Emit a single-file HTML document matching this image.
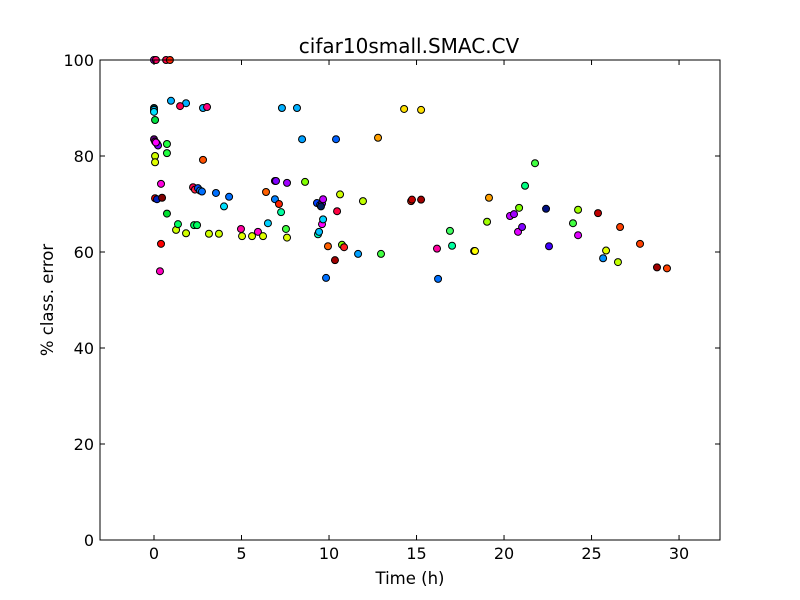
<!DOCTYPE html>
<html><head><meta charset="utf-8"><style>
body{margin:0;background:#fff;}
svg{display:block;font-family:"DejaVu Sans","Liberation Sans",sans-serif;}
</style></head><body>
<svg id="chart" width="800" height="600">
<rect x="0" y="0" width="800" height="600" fill="#fff"/>
<g id="marks"></g>
<g id="axes"></g>
<text x="409" y="53" font-size="20" text-anchor="middle">cifar10small.SMAC.CV</text>
<text x="410" y="584" font-size="16.5" text-anchor="middle">Time (h)</text>
<text transform="translate(53,300) rotate(-90)" font-size="16.5" text-anchor="middle">% class. error</text>
</svg>
<script>
const xTicks=[0,5,10,15,20,25,30];
const yTicks=[0,20,40,60,80,100];
const xs=[0,0.11,0.69,0.91,0,0,0,0.06,0,0.06,0.17,0.23,0.11,0.06,0.06,0.4,0.06,0.17,0.46,0.4,0.34,0.74,0.74,0.74,0.97,1.83,1.49,2.8,3.03,2.8,2.23,2.34,2.51,2.63,2.74,3.54,4.29,4.0,1.26,1.37,1.83,2.29,2.46,3.14,3.71,4.97,5.03,5.6,5.94,6.23,6.4,6.51,6.91,6.97,6.91,7.14,7.26,7.31,8.17,7.6,7.54,7.6,8.46,8.63,9.31,9.49,9.6,9.66,9.54,9.37,9.43,9.6,9.66,9.83,9.94,10.4,10.46,10.63,10.34,10.74,10.86,11.66,11.94,12.8,12.97,14.29,15.26,14.69,14.74,15.26,16.17,16.23,16.91,17.03,18.29,18.34,19.03,19.14,20.34,20.57,20.8,20.86,21.03,21.2,21.77,22.4,22.57,23.94,24.23,24.23,25.37,25.66,25.83,26.51,26.63,27.77,28.74,29.31];
const ys=[100,100,100,100,90,89.6,89.2,87.5,83.5,83,82.6,82.2,82.8,80,78.7,74.2,71.2,71,71.3,61.7,56,82.5,80.6,68,91.5,91,90.4,90,90.2,79.2,73.5,73,73.3,72.8,72.6,72.3,71.5,69.5,64.6,65.8,63.9,65.6,65.6,63.8,63.8,64.8,63.3,63.3,64.2,63.3,72.5,66,74.8,74.8,71,70,68.3,90,90,74.4,64.8,63,83.5,74.6,70.2,69.8,70.1,71,69.5,63.7,64.2,65.8,66.8,54.6,61.2,83.5,68.5,72,58.3,61.5,61,59.6,70.6,83.8,59.6,89.8,89.6,70.6,70.9,70.9,60.7,54.4,64.4,61.3,60.2,60.2,66.3,71.3,67.5,67.9,64.2,69.2,65.2,73.8,78.5,69,61.2,66,68.8,63.5,68.1,58.7,60.3,57.9,65.2,61.7,56.8,56.6];
const colors=["#c000ff","#ff0060","#ff0040","#ff2000","#003030","#00c8ff","#00e0ff","#00e040","#600080","#ff00c0","#c000ff","#8000ff","#ff00ff","#d0ff00","#e0ff00","#ff00e0","#ff0000","#0020c0","#800000","#ff0000","#ff00c0","#20ff40","#20ff40","#00e030","#00b0ff","#00b0ff","#ff0050","#00b0ff","#ff0080","#ff5000","#ff0050","#ff2040","#0050ff","#0080ff","#0070ff","#0070ff","#0070ff","#00e0ff","#d0ff00","#00ff60","#d0ff00","#00ff60","#00ff60","#d0ff00","#d0ff00","#ff00a0","#e0ff00","#e0ff00","#ff00d0","#e0ff00","#ff6000","#00d0ff","#a000ff","#8000ff","#0080ff","#ff2000","#00ffa0","#00b0ff","#00b0ff","#a000ff","#40ff40","#e0ff00","#00a0ff","#80ff00","#0040ff","#0060ff","#8000ff","#c000ff","#002060","#00ffc0","#00c0ff","#ff00ff","#00d0ff","#0070ff","#ff6000","#0060ff","#ff0040","#d0ff00","#a00000","#80ff00","#ff2020","#00a0ff","#c0ff00","#ffa000","#40ff40","#ffe000","#ffe000","#ff2000","#c00000","#a00000","#ff00a0","#0070ff","#40ff60","#00ffa0","#ffd000","#ffff00","#a0ff00","#ffa000","#c000ff","#a000ff","#e000ff","#80ff00","#8000ff","#00ff80","#40ff40","#001080","#4000ff","#40ff40","#a0ff00","#e000ff","#c00000","#0090ff","#e0ff00","#c0ff00","#ff4000","#ff4000","#a00000","#ff4000"];
const L=100,R=720,T=60,B=540,x0=-3.086,x1=32.34,y0=0,y1=100;
const sx=v=>L+(v-x0)/(x1-x0)*(R-L);
const sy=v=>B-(v-y0)/(y1-y0)*(B-T);
const NS="http://www.w3.org/2000/svg";
const marks=document.getElementById('marks'),axes=document.getElementById('axes');
for(let i=0;i<xs.length;i++){
 const c=document.createElementNS(NS,'circle');
 c.setAttribute('cx',sx(xs[i]));c.setAttribute('cy',sy(ys[i]));c.setAttribute('r',3.5);
 c.setAttribute('fill',colors[i]);c.setAttribute('stroke','#000');c.setAttribute('stroke-width','1');
 
 
 marks.appendChild(c);
}
const fr=document.createElementNS(NS,'rect');
fr.setAttribute('x',L);fr.setAttribute('y',T);fr.setAttribute('width',R-L);fr.setAttribute('height',B-T);
fr.setAttribute('fill','none');fr.setAttribute('stroke','#000');


axes.appendChild(fr);
function line(x1_,y1_,x2_,y2_){const l=document.createElementNS(NS,'line');l.setAttribute('x1',x1_);l.setAttribute('y1',y1_);l.setAttribute('x2',x2_);l.setAttribute('y2',y2_);l.setAttribute('stroke','#000');


axes.appendChild(l);}
function txt(x,y,s,anchor){const t=document.createElementNS(NS,'text');t.setAttribute('x',x);t.setAttribute('y',y);t.setAttribute('font-size','16');t.setAttribute('text-anchor',anchor);t.textContent=s;


axes.appendChild(t);}
xTicks.forEach(v=>{const p=sx(v);line(p,B,p,B-5);line(p,T,p,T+5);txt(p,559,String(v),'middle');});
yTicks.forEach(v=>{const p=sy(v);line(L,p,L+5,p);line(R,p,R-5,p);txt(94,p+6,String(v),'end');});
</script>
</body></html>
